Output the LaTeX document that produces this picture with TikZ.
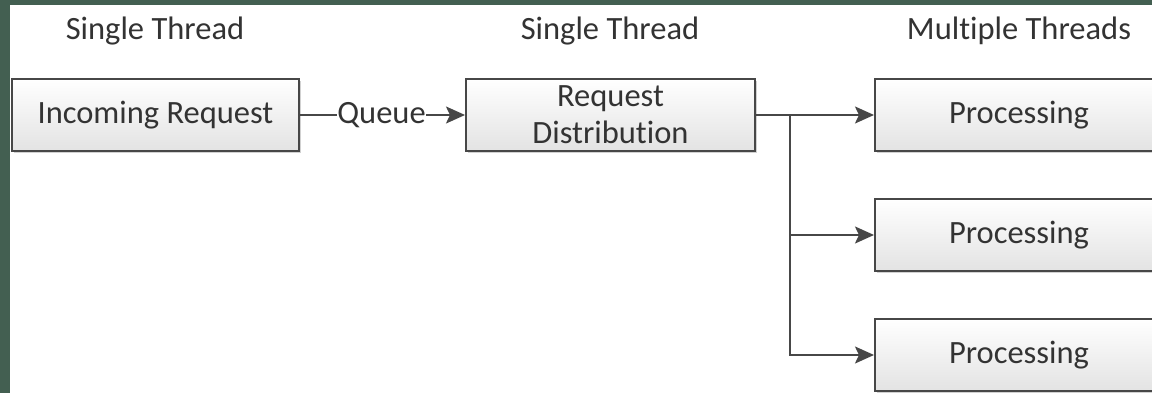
\documentclass[tikz,border=0pt]{standalone}
\usepackage{fontspec}
\setmainfont{Carlito}[Ligatures=NoCommon]
\usetikzlibrary{arrows.meta,shadows}
\definecolor{frame}{HTML}{435F51}
\definecolor{ink}{HTML}{333333}
\definecolor{edge}{HTML}{474747}
\tikzset{
  stagebox/.style={draw=edge, line width=2pt, rectangle, minimum height=72pt,
    top color=white, bottom color=black!11, text=ink, align=center,
    font=\fontsize{32.5}{37}\selectfont,
    drop shadow={shadow xshift=2pt, shadow yshift=-2pt, opacity=0.18, fill=black}},
  header/.style={text=ink, anchor=base, inner sep=0pt, font=\fontsize{32.5}{37}\selectfont},
  link/.style={draw=edge, line width=2pt},
  flow/.style={link, -{Stealth[length=19pt, width=17pt, inset=4pt]}}
}
\begin{document}
\begin{tikzpicture}[x=1pt, y=-1pt]
  \useasboundingbox (0,0) rectangle (1152,393);
  \clip (0,0) rectangle (1152,393);
  \fill[white] (0,0) rectangle (1152,393);
  % dark frame along the top and left edges
  \fill[frame] (0,0) rectangle (1152,5);
  \fill[frame] (0,0) rectangle (10,393);

  % column headings
  \node[header] (h1) at (155,40) {Single Thread};
  \node[header] (h2) at (610,40) {Single Thread};
  \node[header] (h3) at (1019,40) {Multiple Threads};

  % stages
  \node[stagebox, minimum width=287pt] (in) at (155.5,115) {Incoming Request};
  \node[stagebox, minimum width=289pt] (dist) at (610.5,115) {Request\\Distribution};
  \node[stagebox, minimum width=288pt] (p1) at (1019,115) {Processing};
  \node[stagebox, minimum width=288pt] (p2) at (1019,235) {Processing};
  \node[stagebox, minimum width=288pt] (p3) at (1019,355) {Processing};

  % queue between intake and distribution
  \node[text=ink, inner sep=0.5pt, font=\fontsize{32.5}{37}\selectfont] (q) at (381.5,115) {Queue};
  \draw[link] (in.east) -- (q.west);
  \draw[flow] (q.east) -- (dist.west);

  % fan-out to the worker threads
  \coordinate (j) at (790,115);
  \coordinate (j2) at (790,235);
  \draw[link] (dist.east) -- (j);
  \draw[flow] (j) -- (p1.west);
  \draw[flow] (j2) -- (p2.west);
  \draw[flow] (j) |- (p3.west);
\end{tikzpicture}
\end{document}
